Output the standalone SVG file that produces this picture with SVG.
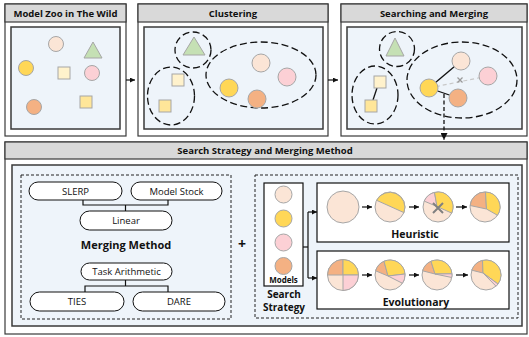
<svg xmlns="http://www.w3.org/2000/svg" width="529" height="337" viewBox="0 0 529 337">
<style>
.panel{fill:#fff;stroke:#3a3a3a;stroke-width:1.2}
.hdr{fill:#d9d9d9;stroke:#3a3a3a;stroke-width:1.2}
.inner{fill:#eef4fa;stroke:#3a3a3a;stroke-width:1.5}
.ht{font-family:"Open Sans","DejaVu Sans",sans-serif;font-weight:700;font-size:9.5px;fill:#111;text-anchor:middle}
.pk{fill:#fbe5d6;stroke:#a6a6a6;stroke-width:1}
.yl{fill:#ffd757;stroke:#a6a6a6;stroke-width:1}
.pi{fill:#fcd0d5;stroke:#a6a6a6;stroke-width:1}
.or{fill:#f4b183;stroke:#a6a6a6;stroke-width:1}
.sq1{fill:#fff2cc;stroke:#a6a6a6;stroke-width:1}
.sq2{fill:#ffe699;stroke:#a6a6a6;stroke-width:1}
.tri{fill:#c5e0b4;stroke:#a6a6a6;stroke-width:1}
.dash{fill:none;stroke:#111;stroke-width:1.3;stroke-dasharray:7 3.5}
.dbox{fill:none;stroke:#222;stroke-width:1;stroke-dasharray:3 2}
.pill{fill:#fff;stroke:#111;stroke-width:1}
.pt{font-family:"Open Sans","DejaVu Sans",sans-serif;font-size:9.5px;fill:#111;text-anchor:middle}
.bt{font-family:"Open Sans","DejaVu Sans",sans-serif;font-weight:700;font-size:10.5px;fill:#111;text-anchor:middle}
.ln{fill:none;stroke:#111;stroke-width:1.2}
.box{fill:#fff;stroke:#111;stroke-width:1.2}
</style>
<defs>
<marker id="ah" viewBox="0 0 10 10" refX="10" refY="5" markerWidth="5" markerHeight="5" orient="auto" markerUnits="userSpaceOnUse"><path d="M0,0 L10,5 L0,10 Z" fill="#111"/></marker>
<marker id="ah2" viewBox="0 0 10 10" refX="10" refY="5" markerWidth="7" markerHeight="7" orient="auto" markerUnits="userSpaceOnUse"><path d="M0,0 L10,5 L0,10 Z" fill="#111"/></marker>
</defs>

<!-- Panel 1 -->
<g id="panel-zoo">
<rect class="panel" x="5" y="4" width="121" height="132"/>
<rect class="hdr" x="5" y="4" width="121" height="18"/>
<text class="ht" x="65.5" y="16.5">Model Zoo in The Wild</text>
<rect class="inner" x="11" y="27" width="109" height="102"/>
<circle class="pk" cx="56" cy="44" r="7.5"/>
<polygon class="tri" points="93,42 102,58 84,58"/>
<circle class="yl" cx="26" cy="68" r="7.5"/>
<rect class="sq1" x="58" y="67" width="12" height="12"/>
<circle class="pi" cx="92" cy="73" r="7.5"/>
<circle class="or" cx="34" cy="107" r="7.5"/>
<rect class="sq2" x="80" y="96" width="12" height="12"/>
</g>

<!-- Panel 2 -->
<g id="panel-cluster">
<rect class="panel" x="138" y="4" width="190" height="132"/>
<rect class="hdr" x="138" y="4" width="190" height="18"/>
<text class="ht" x="233" y="16.5">Clustering</text>
<rect class="inner" x="144" y="27" width="179" height="102"/>
<circle class="dash" cx="193" cy="50" r="18"/>
<polygon class="tri" points="194,37 205,55 183,55"/>
<ellipse class="dash" cx="171" cy="96" rx="23.5" ry="29"/>
<rect class="sq1" x="172" y="74" width="12" height="12"/>
<rect class="sq2" x="159" y="100" width="12" height="12"/>
<ellipse class="dash" cx="261" cy="75" rx="55" ry="33"/>
<circle class="pk" cx="261" cy="63" r="9"/>
<circle class="pi" cx="287" cy="77" r="9"/>
<circle class="yl" cx="229" cy="88" r="9"/>
<circle class="or" cx="257" cy="99" r="9"/>
</g>

<!-- Panel 3 -->
<g id="panel-search">
<rect class="panel" x="341" y="4" width="186" height="132"/>
<rect class="hdr" x="341" y="4" width="186" height="18"/>
<text class="ht" x="434" y="16.5">Searching and Merging</text>
<rect class="inner" x="347" y="27" width="175" height="102"/>
<circle class="dash" cx="397" cy="49" r="17.5"/>
<polygon class="tri" points="395,38 404,56 386,56"/>
<ellipse class="dash" cx="375" cy="95" rx="23" ry="29"/>
<ellipse class="dash" cx="462" cy="80" rx="55" ry="38"/>
<line x1="429" y1="88" x2="488" y2="76" stroke="#c8c8c8" stroke-width="1.2" stroke-dasharray="4 3"/>
<line x1="429" y1="88" x2="461" y2="61" stroke="#111" stroke-width="1.3"/>
<line x1="429" y1="88" x2="458" y2="98" stroke="#111" stroke-width="1.3"/>
<line x1="377" y1="88" x2="373" y2="100" stroke="#111" stroke-width="1.3"/>
<path d="M457.5,77.5 L462.5,82.5 M462.5,77.5 L457.5,82.5" stroke="#999" stroke-width="1.2"/>
<rect class="sq1" x="374" y="76" width="12" height="12"/>
<rect class="sq2" x="365" y="100" width="12" height="12"/>
<circle class="pk" cx="461" cy="61" r="9"/>
<circle class="pi" cx="488" cy="76" r="9"/>
<circle class="yl" cx="429" cy="88" r="9"/>
<circle class="or" cx="458" cy="98" r="9"/>
</g>

<!-- Bottom panel -->
<g id="panel-method">
<rect class="panel" x="5" y="142" width="522" height="192"/>
<rect class="hdr" x="5" y="142" width="522" height="17"/>
<text class="ht" x="265" y="154">Search Strategy and Merging Method</text>
<rect class="inner" x="12" y="165" width="510" height="161"/>
<rect class="dbox" x="21" y="175" width="210" height="144"/>
<rect class="dbox" x="255" y="175" width="263" height="143"/>
<text class="bt" x="242" y="249" style="font-size:14px">+</text>
</g>

<g id="merging-method">
<g id="slerp"><rect class="pill" x="29" y="182" width="93" height="18" rx="9"/><text class="pt" x="75.5" y="194.5">SLERP</text></g>
<g id="model-stock"><rect class="pill" x="131" y="182" width="91" height="18" rx="9"/><text class="pt" x="176.5" y="194.5">Model Stock</text></g>
<g id="linear"><rect class="pill" x="80" y="211" width="92" height="19" rx="9.5"/><text class="pt" x="126" y="223.5">Linear</text></g>
<text class="bt" x="126" y="249" style="font-size:11px">Merging Method</text>
<g id="task-arith"><rect class="pill" x="81" y="263" width="91" height="17" rx="8.5"/><text class="pt" x="126.5" y="274.8">Task Arithmetic</text></g>
<g id="ties"><rect class="pill" x="30" y="292" width="94" height="19" rx="9.5"/><text class="pt" x="77" y="304.5">TIES</text></g>
<g id="dare"><rect class="pill" x="133" y="292" width="92" height="19" rx="9.5"/><text class="pt" x="179" y="304.5">DARE</text></g>
</g>

<g id="models">
<rect class="box" x="264" y="183" width="39" height="103"/>
<circle class="pk" cx="283.5" cy="194.5" r="8.5"/>
<circle class="yl" cx="283.5" cy="218.5" r="8.5"/>
<circle class="pi" cx="283.5" cy="242.5" r="8.5"/>
<circle class="or" cx="283.5" cy="266" r="8.5"/>
<text class="bt" x="283.5" y="283" style="font-size:8px">Models</text>
<text class="bt" x="284" y="298" style="font-size:10px">Search</text>
<text class="bt" x="284" y="310.5" style="font-size:10px">Strategy</text>
</g>

<g id="heuristic">
<rect class="box" x="317" y="183" width="192" height="59"/>
<circle class="pk" cx="343" cy="207" r="16"/>
<circle class="pk" cx="390" cy="207" r="15"/>
<path class="yl" d="M376.6,200.3 A15,15 0 0 1 403.9,212.6 Z"/>
<circle class="pk" cx="438" cy="207" r="15"/>
<path class="pi" d="M437,206.5 L424.2,201.1 A15,15 0 0 1 434.5,192.4 Z"/>
<path class="yl" d="M437,206.5 L434.5,192.4 A15,15 0 0 1 451.7,213.1 Z"/>
<path d="M433,203 L443,213 M443,203 L433,213" stroke="#808080" stroke-width="2"/>
<circle class="pk" cx="485" cy="207" r="15"/>
<path class="or" d="M486.5,209 L470.1,205.5 A15,15 0 0 1 485.5,192 Z"/>
<path class="yl" d="M486.5,209 L485.5,192 A15,15 0 0 1 497.5,215.3 Z"/>
<text class="bt" x="415" y="237.5">Heuristic</text>
</g>

<g id="evolutionary">
<rect class="box" x="317" y="251" width="192" height="58"/>
<circle class="pk" cx="343" cy="275" r="15.5"/>
<path class="or" d="M343,275 L327.5,275 A15.5,15.5 0 0 1 343,259.5 Z"/>
<path class="yl" d="M343,275 L343,259.5 A15.5,15.5 0 0 1 358.5,275 Z"/>
<path class="pi" d="M343,275 L358.5,275 A15.5,15.5 0 0 1 343,290.5 Z"/>
<circle class="pk" cx="390" cy="275" r="15"/>
<path class="or" d="M388,276 L375.6,270.8 A15,15 0 0 1 384,261.25 Z"/>
<path class="yl" d="M388,276 L384,261.25 A15,15 0 0 1 405,274 Z"/>
<path class="pi" d="M388,276 L405,274 A15,15 0 0 1 402.5,283.3 Z"/>
<circle class="pk" cx="437" cy="275" r="15"/>
<path class="or" d="M435,274 L422.6,270.8 A15,15 0 0 1 431,261.25 Z"/>
<path class="yl" d="M435,274 L431,261.25 A15,15 0 0 1 451.95,273.8 Z"/>
<path class="pi" d="M435,274 L451.95,273.8 A15,15 0 0 1 451.8,277.5 Z"/>
<circle class="pk" cx="486" cy="275" r="15"/>
<path class="or" d="M483,273 L471.8,270.2 A15,15 0 0 1 482.5,260.4 Z"/>
<path class="yl" d="M483,273 L482.5,260.4 A15,15 0 0 1 498,284 Z"/>
<path class="pi" d="M483,273 L498,284 A15,15 0 0 1 496,286.2 Z"/>
<text class="bt" x="416" y="305.5">Evolutionary</text>
</g>

<g id="connectors">
<line class="ln" x1="126" y1="80" x2="135" y2="80" marker-end="url(#ah)"/>
<line class="ln" x1="328" y1="80" x2="338" y2="80" marker-end="url(#ah)"/>
<line x1="444" y1="94" x2="444" y2="140" stroke="#111" stroke-width="1.3" stroke-dasharray="4 2.5" marker-end="url(#ah2)"/>
<polyline class="ln" points="83,200 83,205 168,205 168,200"/>
<line class="ln" x1="125.5" y1="205" x2="125.5" y2="211"/>
<line class="ln" x1="125.5" y1="280" x2="125.5" y2="286"/>
<polyline class="ln" points="85,292 85,286 168,286 168,292"/>
<polyline class="ln" points="303,247 308,247"/>
<polyline class="ln" points="308,212 308,278"/>
<line class="ln" x1="308" y1="212" x2="317" y2="212" marker-end="url(#ah)"/>
<line class="ln" x1="308" y1="278" x2="317" y2="278" marker-end="url(#ah)"/>
<line class="ln" x1="362" y1="207" x2="372" y2="207" marker-end="url(#ah)"/>
<line class="ln" x1="409" y1="207" x2="419" y2="207" marker-end="url(#ah)"/>
<line class="ln" x1="456" y1="207" x2="467" y2="207" marker-end="url(#ah)"/>
<line class="ln" x1="362" y1="275" x2="372" y2="275" marker-end="url(#ah)"/>
<line class="ln" x1="409" y1="275" x2="419" y2="275" marker-end="url(#ah)"/>
<line class="ln" x1="456" y1="275" x2="468" y2="275" marker-end="url(#ah)"/>
</g>
</svg>
